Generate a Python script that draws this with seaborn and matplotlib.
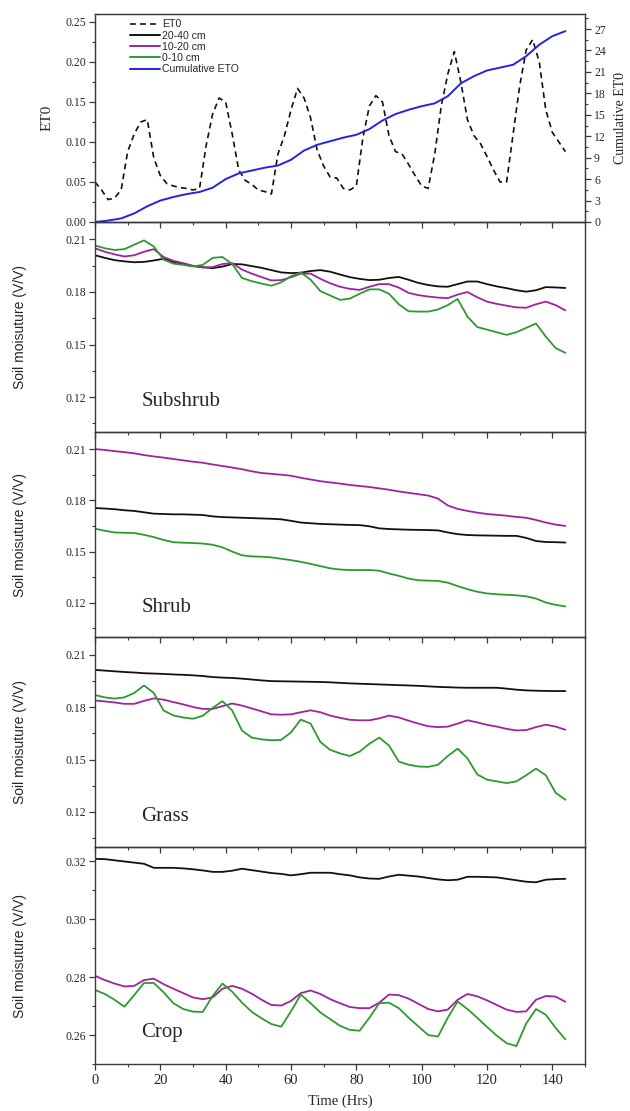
import matplotlib
matplotlib.use("Agg")
import matplotlib.pyplot as plt
import matplotlib.ticker as mt
from matplotlib.lines import Line2D
import numpy as np
import pandas as pd
import seaborn as sns

# ---- data ----
# ET0 (every 2 h) and cumulative ET0 (every 4 h)
eto_hours = list(range(0, 145, 2))
eto = [0.050, 0.040, 0.028, 0.030, 0.040, 0.088, 0.110, 0.125, 0.128, 0.080,
       0.058, 0.048, 0.045, 0.043, 0.042, 0.040, 0.042, 0.095, 0.135, 0.155,
       0.150, 0.110, 0.065, 0.052, 0.047, 0.040, 0.038, 0.035, 0.085, 0.108,
       0.140, 0.167, 0.155, 0.130, 0.090, 0.070, 0.056, 0.055, 0.042, 0.040,
       0.045, 0.105, 0.145, 0.158, 0.150, 0.108, 0.088, 0.085, 0.072, 0.058,
       0.045, 0.042, 0.085, 0.145, 0.185, 0.213, 0.175, 0.128, 0.108, 0.098,
       0.082, 0.065, 0.050, 0.050, 0.110, 0.170, 0.215, 0.228, 0.200, 0.140,
       0.112, 0.100, 0.088]
cum_hours = list(range(0, 145, 4))
cum_eto = [0.0, 0.2, 0.5, 1.2, 2.2, 3.0, 3.5, 3.9, 4.2, 4.8, 6.0, 6.8, 7.2,
           7.6, 7.9, 8.7, 10.0, 10.8, 11.3, 11.8, 12.2, 13.0, 14.2, 15.1, 15.7,
           16.2, 16.6, 17.6, 19.4, 20.4, 21.2, 21.6, 22.0, 23.2, 24.8, 26.0, 26.7]

# soil moisture, every 3 h
hours = list(range(0, 145, 3))

subshrub_2040 = [0.2010, 0.1995, 0.1982, 0.1975, 0.1970, 0.1972, 0.1980, 0.1990, 0.1972, 0.1960,
                 0.1948, 0.1942, 0.1936, 0.1945, 0.1960, 0.1958, 0.1948, 0.1938, 0.1925, 0.1912,
                 0.1908, 0.1910, 0.1920, 0.1925, 0.1916, 0.1900, 0.1885, 0.1875, 0.1868, 0.1870,
                 0.1880, 0.1886, 0.1870, 0.1852, 0.1840, 0.1832, 0.1830, 0.1845, 0.1860, 0.1860,
                 0.1845, 0.1832, 0.1822, 0.1810, 0.1802, 0.1810, 0.1828, 0.1826, 0.1823]
subshrub_1020 = [0.2050, 0.2030, 0.2015, 0.2003, 0.2010, 0.2030, 0.2045, 0.2000, 0.1978, 0.1965,
                 0.1950, 0.1940, 0.1942, 0.1960, 0.1965, 0.1928, 0.1905, 0.1885, 0.1866, 0.1868,
                 0.1884, 0.1905, 0.1905, 0.1875, 0.1850, 0.1830, 0.1818, 0.1812, 0.1830, 0.1845,
                 0.1845, 0.1825, 0.1795, 0.1782, 0.1774, 0.1768, 0.1765, 0.1785, 0.1800, 0.1770,
                 0.1745, 0.1732, 0.1722, 0.1712, 0.1710, 0.1730, 0.1745, 0.1725, 0.1695]
subshrub_010 = [0.2066, 0.2050, 0.2040, 0.2045, 0.2070, 0.2095, 0.2060, 0.1985, 0.1962, 0.1955,
                0.1946, 0.1955, 0.1995, 0.2000, 0.1960, 0.1880, 0.1862, 0.1848, 0.1836, 0.1855,
                0.1890, 0.1912, 0.1870, 0.1805, 0.1780, 0.1755, 0.1762, 0.1790, 0.1815, 0.1815,
                0.1790, 0.1730, 0.1690, 0.1688, 0.1688, 0.1700, 0.1725, 0.1760, 0.1660, 0.1600,
                0.1585, 0.1570, 0.1555, 0.1570, 0.1595, 0.1620, 0.1545, 0.1480, 0.1452]

shrub_2040 = [0.1755, 0.1752, 0.1748, 0.1742, 0.1738, 0.1730, 0.1722, 0.1720, 0.1718, 0.1718,
              0.1716, 0.1714, 0.1706, 0.1702, 0.1700, 0.1698, 0.1696, 0.1694, 0.1692, 0.1689,
              0.1680, 0.1670, 0.1666, 0.1662, 0.1660, 0.1658, 0.1656, 0.1655, 0.1648, 0.1636,
              0.1632, 0.1630, 0.1628, 0.1627, 0.1626, 0.1624, 0.1612, 0.1602, 0.1597, 0.1595,
              0.1594, 0.1593, 0.1592, 0.1592, 0.1580, 0.1562, 0.1556, 0.1555, 0.1553]
shrub_1020 = [0.2100, 0.2095, 0.2088, 0.2082, 0.2075, 0.2065, 0.2057, 0.2050, 0.2042, 0.2034,
              0.2026, 0.2020, 0.2010, 0.2001, 0.1992, 0.1982, 0.1970, 0.1960, 0.1955, 0.1950,
              0.1944, 0.1932, 0.1922, 0.1912, 0.1905, 0.1898, 0.1890, 0.1884, 0.1878, 0.1870,
              0.1862, 0.1852, 0.1844, 0.1836, 0.1828, 0.1810, 0.1770, 0.1750, 0.1738, 0.1728,
              0.1720, 0.1715, 0.1710, 0.1703, 0.1698, 0.1685, 0.1670, 0.1658, 0.1650]
shrub_010 = [0.1634, 0.1622, 0.1612, 0.1610, 0.1609, 0.1598, 0.1585, 0.1568, 0.1555, 0.1552,
             0.1550, 0.1547, 0.1540, 0.1525, 0.1500, 0.1478, 0.1472, 0.1470, 0.1466, 0.1458,
             0.1450, 0.1440, 0.1428, 0.1415, 0.1402, 0.1395, 0.1392, 0.1392, 0.1392, 0.1388,
             0.1372, 0.1358, 0.1342, 0.1332, 0.1330, 0.1328, 0.1318, 0.1298, 0.1280, 0.1265,
             0.1255, 0.1250, 0.1247, 0.1244, 0.1238, 0.1225, 0.1202, 0.1188, 0.1179]

grass_2040 = [0.2012, 0.2008, 0.2004, 0.2000, 0.1997, 0.1993, 0.1991, 0.1989, 0.1986, 0.1984,
              0.1981, 0.1977, 0.1971, 0.1968, 0.1966, 0.1962, 0.1957, 0.1952, 0.1948, 0.1947,
              0.1946, 0.1945, 0.1944, 0.1943, 0.1941, 0.1938, 0.1935, 0.1933, 0.1931, 0.1929,
              0.1927, 0.1925, 0.1923, 0.1921, 0.1918, 0.1915, 0.1913, 0.1911, 0.1910, 0.1910,
              0.1910, 0.1910, 0.1905, 0.1899, 0.1895, 0.1893, 0.1892, 0.1891, 0.1891]
grass_1020 = [0.1837, 0.1832, 0.1826, 0.1818, 0.1818, 0.1835, 0.1849, 0.1842, 0.1828, 0.1815,
              0.1800, 0.1789, 0.1789, 0.1805, 0.1820, 0.1808, 0.1792, 0.1775, 0.1758, 0.1756,
              0.1758, 0.1770, 0.1781, 0.1770, 0.1751, 0.1738, 0.1727, 0.1724, 0.1724, 0.1735,
              0.1751, 0.1740, 0.1722, 0.1705, 0.1690, 0.1685, 0.1688, 0.1705, 0.1724, 0.1712,
              0.1698, 0.1688, 0.1675, 0.1666, 0.1668, 0.1685, 0.1699, 0.1688, 0.1670]
grass_010 = [0.1868, 0.1855, 0.1848, 0.1855, 0.1880, 0.1923, 0.1880, 0.1780, 0.1752, 0.1740,
             0.1733, 0.1750, 0.1795, 0.1833, 0.1780, 0.1665, 0.1625, 0.1615, 0.1610, 0.1612,
             0.1655, 0.1728, 0.1705, 0.1600, 0.1555, 0.1535, 0.1520, 0.1545, 0.1590, 0.1625,
             0.1580, 0.1488, 0.1470, 0.1460, 0.1458, 0.1470, 0.1520, 0.1562, 0.1507, 0.1415,
             0.1385, 0.1375, 0.1365, 0.1375, 0.1410, 0.1448, 0.1410, 0.1310, 0.1270]

crop_2040 = [0.3209, 0.3208, 0.3204, 0.3200, 0.3196, 0.3192, 0.3178, 0.3178, 0.3178, 0.3176,
             0.3173, 0.3169, 0.3164, 0.3164, 0.3168, 0.3175, 0.3170, 0.3165, 0.3160, 0.3157,
             0.3152, 0.3156, 0.3161, 0.3161, 0.3161, 0.3156, 0.3152, 0.3145, 0.3141, 0.3140,
             0.3148, 0.3154, 0.3151, 0.3148, 0.3143, 0.3138, 0.3135, 0.3137, 0.3147, 0.3147,
             0.3146, 0.3145, 0.3140, 0.3135, 0.3130, 0.3128, 0.3137, 0.3139, 0.3140]
crop_1020 = [0.2805, 0.2790, 0.2778, 0.2768, 0.2770, 0.2790, 0.2795, 0.2776, 0.2760, 0.2745,
             0.2730, 0.2724, 0.2730, 0.2760, 0.2770, 0.2760, 0.2743, 0.2722, 0.2704, 0.2702,
             0.2718, 0.2745, 0.2754, 0.2742, 0.2724, 0.2710, 0.2697, 0.2693, 0.2693, 0.2712,
             0.2740, 0.2738, 0.2726, 0.2708, 0.2690, 0.2682, 0.2688, 0.2722, 0.2742, 0.2734,
             0.2720, 0.2704, 0.2688, 0.2680, 0.2682, 0.2722, 0.2735, 0.2733, 0.2715]
crop_010 = [0.2756, 0.2742, 0.2722, 0.2698, 0.2738, 0.2780, 0.2780, 0.2748, 0.2710, 0.2690,
            0.2681, 0.2680, 0.2735, 0.2778, 0.2750, 0.2712, 0.2680, 0.2658, 0.2638, 0.2629,
            0.2682, 0.2740, 0.2710, 0.2678, 0.2655, 0.2632, 0.2618, 0.2615, 0.2660, 0.2710,
            0.2712, 0.2693, 0.2660, 0.2630, 0.2600, 0.2595, 0.2660, 0.2716, 0.2690, 0.2660,
            0.2628, 0.2598, 0.2572, 0.2562, 0.2640, 0.2690, 0.2670, 0.2625, 0.2585]

depths = ["20-40 cm", "10-20 cm", "0-10 cm"]
panels = ["Subshrub", "Shrub", "Grass", "Crop"]
panel_data = {
    "Subshrub": [subshrub_2040, subshrub_1020, subshrub_010],
    "Shrub": [shrub_2040, shrub_1020, shrub_010],
    "Grass": [grass_2040, grass_1020, grass_010],
    "Crop": [crop_2040, crop_1020, crop_010],
}
panel_ylim = {"Subshrub": (0.10, 0.22), "Shrub": (0.10, 0.22),
              "Grass": (0.10, 0.22), "Crop": (0.25, 0.325)}
panel_ticks = {"Subshrub": [0.12, 0.15, 0.18, 0.21], "Shrub": [0.12, 0.15, 0.18, 0.21],
               "Grass": [0.12, 0.15, 0.18, 0.21], "Crop": [0.26, 0.28, 0.30, 0.32]}

# ---- style ----
colors = {"20-40 cm": "#111111", "10-20 cm": "#A0239E", "0-10 cm": "#2E9A2E"}
blue = "#2323E6"
spine_col = "#3a3a3a"
serif = ["Liberation Serif", "DejaVu Serif"]
sans = ["Liberation Sans", "DejaVu Sans"]

sns.set_style("ticks")
plt.rcParams["font.family"] = serif

W, H = 630, 1111
fig = plt.figure(figsize=(W / 100, H / 100), dpi=100)
left, right = 95, 585
bounds = [(14, 222), (222, 432), (432, 637), (637, 847), (847, 1064)]


def make_ax(top, bot):
    ax = fig.add_axes([left / W, 1 - bot / H, (right - left) / W, (bot - top) / H])
    ax.patch.set_visible(False)
    return ax


def style_ax(ax, show_xlabels=False):
    ax.set_xlim(0, 150)
    ax.xaxis.set_major_locator(mt.MultipleLocator(20))
    ax.xaxis.set_minor_locator(mt.MultipleLocator(10))
    ax.tick_params(axis="both", which="major", direction="out", length=4.5,
                   width=0.9, color=spine_col, labelsize=8.5, pad=2)
    ax.tick_params(axis="both", which="minor", direction="out", length=2.5,
                   width=0.8, color=spine_col)
    ax.tick_params(axis="x", labelbottom=show_xlabels, labelsize=10.5, pad=3)
    for s in ax.spines.values():
        s.set_color(spine_col)
        s.set_linewidth(1.0)
        s.set_visible(True)
    ax.set_xlabel("")


# ---- top panel: ET0 ----
ax0 = make_ax(*bounds[0])
eto_df = pd.DataFrame({"hour": eto_hours, "eto": eto})
sns.lineplot(data=eto_df, x="hour", y="eto", ax=ax0, color="#111111", lw=1.2,
             linestyle=(0, (3.5, 2.5)))
ax0.set_ylim(0, 0.26)
ax0.yaxis.set_major_locator(mt.MultipleLocator(0.05))
ax0.yaxis.set_minor_locator(mt.MultipleLocator(0.025))
ax0.yaxis.set_major_formatter(mt.FormatStrFormatter("%.2f"))
style_ax(ax0)
ax0.set_ylabel("ET0", fontsize=11)
ax0.yaxis.set_label_coords(-0.085, 0.5)

ax0r = ax0.twinx()
ax0r.patch.set_visible(False)
cum_df = pd.DataFrame({"hour": cum_hours, "cum": cum_eto})
sns.lineplot(data=cum_df, x="hour", y="cum", ax=ax0r, color=blue, lw=1.4)
ax0r.set_ylim(0, 29.1)
ax0r.yaxis.set_major_locator(mt.MultipleLocator(3))
ax0r.yaxis.set_minor_locator(mt.MultipleLocator(1.5))
ax0r.tick_params(axis="y", which="major", direction="out", length=4.5, width=0.9,
                 color=spine_col, labelsize=8.5, pad=2)
ax0r.tick_params(axis="y", which="minor", direction="out", length=2.5, width=0.8,
                 color=spine_col)
ax0r.tick_params(axis="x", which="both", top=False, bottom=False, labelbottom=False)
ax0r.set_xlabel("")
ax0r.set_ylabel("Cumulative ET0", fontsize=10)
ax0r.yaxis.set_label_coords(1.06, 0.5)
for s in ax0r.spines.values():
    s.set_color(spine_col)

handles = [Line2D([], [], color="#111111", lw=1.2, linestyle=(0, (3.5, 2.5)))]
handles += [Line2D([], [], color=colors[d], lw=1.4) for d in depths]
handles += [Line2D([], [], color=blue, lw=1.4)]
ax0.legend(handles, ["ET0"] + depths + ["Cumulative ETO"], loc="upper left",
           bbox_to_anchor=(0.06, 1.0), frameon=False, handlelength=2.9,
           handletextpad=0.15, labelspacing=0.12, borderaxespad=0.1,
           prop={"family": sans, "size": 7.6})

# ---- soil moisture panels ----
for i, name in enumerate(panels):
    ax = make_ax(*bounds[i + 1])
    rows = []
    for d, vals in zip(depths, panel_data[name]):
        rows += [(h, v, d) for h, v in zip(hours, vals)]
    df = pd.DataFrame(rows, columns=["hour", "sm", "depth"])
    sns.lineplot(data=df, x="hour", y="sm", hue="depth", palette=colors,
                 hue_order=depths, ax=ax, lw=1.3, legend=False)
    ax.set_ylim(*panel_ylim[name])
    ax.yaxis.set_major_locator(mt.FixedLocator(panel_ticks[name]))
    step = panel_ticks[name][1] - panel_ticks[name][0]
    ax.yaxis.set_minor_locator(mt.MultipleLocator(step / 2))
    ax.yaxis.set_major_formatter(mt.FormatStrFormatter("%.2f"))
    style_ax(ax, show_xlabels=(i == len(panels) - 1))
    ax.set_ylabel("Soil moisuture (V/V)", fontsize=10, family=sans)
    ax.yaxis.set_label_coords(-0.138, 0.5)
    ax.text(0.095, 0.145, name, transform=ax.transAxes, fontsize=15,
            va="center", ha="left")
    if i == len(panels) - 1:
        ax.set_xlabel("Time (Hrs)", fontsize=10.5, labelpad=5)

fig.savefig("out.png", dpi=100, facecolor="white")
